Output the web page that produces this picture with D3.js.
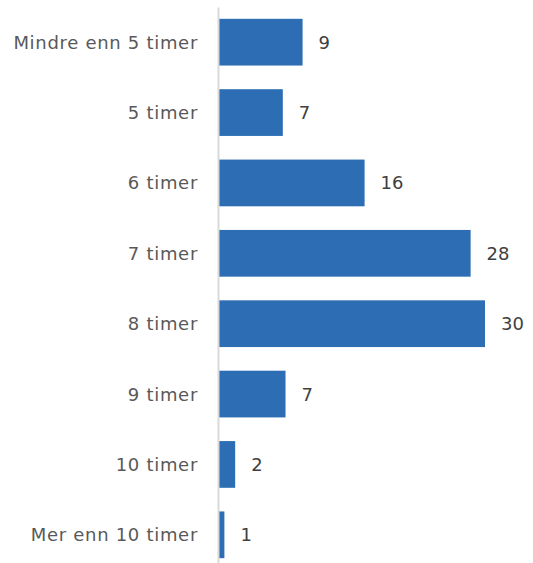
<!DOCTYPE html>
<html>
<head>
<meta charset="utf-8">
<script src="https://cdn.jsdelivr.net/npm/d3@7"></script>
<style>
  body { margin: 0; background: #fff; }
  text { font-family: "DejaVu Sans", sans-serif; }
</style>
</head>
<body>
<svg id="chart"></svg>
<script>
"use strict";
// kategorier og verdier (prosent)
var categories = ["Mindre enn 5 timer", "5 timer", "6 timer", "7 timer", "8 timer", "9 timer", "10 timer", "Mer enn 10 timer"];
var values = [9.3, 7.1, 16.2, 28.0, 29.6, 7.4, 1.8, 0.6];
var valueLabels = ["9", "7", "16", "28", "30", "7", "2", "1"];

var width = 533, height = 563;
var svg = d3.select("#chart").attr("width", width).attr("height", height);

var xScale = d3.scaleLinear().domain([0, 29.6]).range([219, 485]);
var yScale = d3.scaleBand()
  .domain(categories)
  .range([7, 570])
  .paddingInner(0.336)
  .paddingOuter(0.168);

var data = categories.map((c, i) => ({ cat: c, v: values[i], lab: valueLabels[i] }));

// stolper
svg.selectAll("rect.bar")
  .data(data)
  .enter()
  .append("rect")
  .attr("class", "bar")
  .attr("x", xScale(0))
  .attr("y", (d) => yScale(d.cat))
  .attr("width", (d) => xScale(d.v) - xScale(0))
  .attr("height", yScale.bandwidth())
  .attr("fill", "#2c6db3");

// verdietiketter
svg.selectAll("text.val")
  .data(data)
  .enter()
  .append("text")
  .attr("class", "val")
  .attr("x", (d) => xScale(d.v) + 16)
  .attr("y", (d) => yScale(d.cat) + yScale.bandwidth() / 2)
  .attr("dy", "0.36em")
  .attr("fill", "#404040")
  .style("font-size", "18px")
  .text((d) => d.lab);

// y-akse
var yAxis = d3.axisLeft(yScale).tickSize(0).tickPadding(20);
svg.append("g")
  .attr("transform", "translate(218,0)")
  .call(yAxis)
  .call((g) => g.select(".domain").attr("stroke", "#d9d9d9").attr("stroke-width", 2))
  .call((g) => g.selectAll(".tick text")
    .attr("fill", "#595959")
    .attr("dy", "0.36em")
    .style("font-size", "18px")
    .style("letter-spacing", "0.7px")
    .style("font-family", "'DejaVu Sans', sans-serif"));
</script>
</body>
</html>
